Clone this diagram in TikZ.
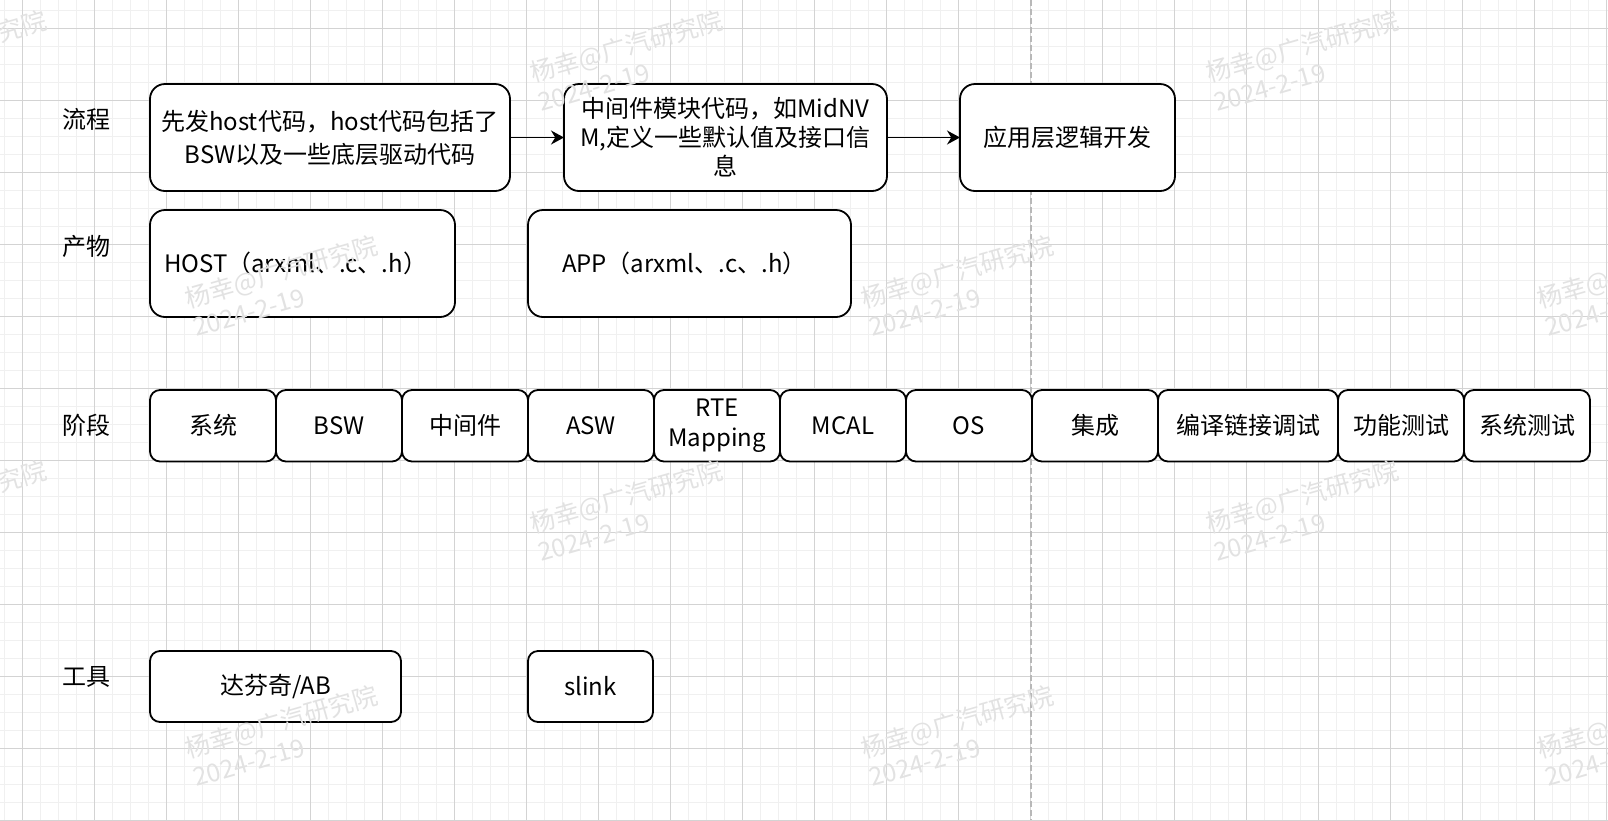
\documentclass[tikz,border=0pt]{standalone}
\usepackage{fontspec}
\setmainfont{Noto Sans CJK SC}
\usepackage{tikz}
\usetikzlibrary{positioning, arrows.meta}

\definecolor{gridminor}{HTML}{F0F0F0}
\definecolor{gridmajor}{HTML}{D3D3D3}
\definecolor{marktext}{HTML}{E2E2E2}

\begin{document}
\begin{tikzpicture}[
  x=1pt, y=-1pt,
  every node/.style={font=\fontsize{24}{30}\selectfont, align=center},
  minor line/.style={draw=gridminor, line width=1pt},
  major line/.style={draw=gridmajor, line width=1pt},
  divider/.style={draw=black!28, line width=1.5pt, dash pattern=on 6pt off 3pt},
  rowlabel/.style={inner sep=0pt},
  flowbox/.style={rectangle, draw, fill=white, line width=1.8pt, rounded corners=15pt, minimum height=107pt, outer sep=0pt},
  stagebox/.style={rectangle, draw, fill=white, line width=1.8pt, rounded corners=10pt, minimum width=126pt, minimum height=71.5pt, inner sep=2pt, outer sep=0pt, font=\fontsize{24}{29.5}\selectfont},
  toolbox/.style={stagebox, minimum height=71pt},
  flow arrow/.style={draw, line width=1.8pt, -{Stealth[length=13pt, width=14pt]}},
  watermark/.style={text=marktext, rotate=16, align=left, font=\fontsize{25}{30}\selectfont}
]
\useasboundingbox (0,0) rectangle (1608,820);

% background grid
\foreach \gx in {4,22,...,1606} \draw[minor line] (\gx,0) -- (\gx,820);
\foreach \gy in {10,28,...,820} \draw[minor line] (0,\gy) -- (1608,\gy);
\foreach \gx in {22,94,...,1606} \draw[major line] (\gx,0) -- (\gx,820);
\foreach \gy in {28,100,...,820} \draw[major line] (0,\gy) -- (1608,\gy);
\draw[divider] (1031,0) -- (1031,820);

% row labels
\node[rowlabel] (lblflow) at (86,119) {流程};
\node[rowlabel] (lblout) at (86,246) {产物};
\node[rowlabel] (lblstage) at (86,425) {阶段};
\node[rowlabel] (lbltool) at (86,677) {工具};

% flow
\node[flowbox, minimum width=360pt, font=\fontsize{24}{33}\selectfont] (host) at (330,137.5)
  {先发host代码，host代码包括了\\BSW以及一些底层驱动代码};
\node[flowbox, minimum width=323pt, font=\fontsize{24}{29}\selectfont, right=54pt of host] (midware)
  {中间件模块代码，如MidNV\\M,定义一些默认值及接口信\\息};
\node[flowbox, minimum width=215pt, right=73pt of midware] (appdev) {应用层逻辑开发};
\draw[flow arrow] (host) -- (midware);
\draw[flow arrow] (midware) -- (appdev);

% outputs
\node[flowbox, text width=277pt, align=left, inner xsep=14pt] (hostout) at (302.5,263.5)
  {HOST（arxml、.c、.h）};
\node[flowbox, text width=255pt, align=left, inner xsep=34pt] (appout) at (689.5,263.5)
  {APP（arxml、.c、.h）};

% stages
\node[stagebox] (sys) at (213,425.75) {系统};
\node[stagebox, right=0pt of sys] (bsw) {BSW};
\node[stagebox, right=0pt of bsw] (midw) {中间件};
\node[stagebox, right=0pt of midw] (asw) {ASW};
\node[stagebox, right=0pt of asw] (rte) {RTE\\Mapping};
\node[stagebox, right=0pt of rte] (mcal) {MCAL};
\node[stagebox, right=0pt of mcal] (os) {OS};
\node[stagebox, right=0pt of os] (integ) {集成};
\node[stagebox, minimum width=180pt, right=0pt of integ] (build) {编译链接调试};
\node[stagebox, right=0pt of build] (functest) {功能测试};
\node[stagebox, right=0pt of functest] (systest) {系统测试};

% tools
\node[toolbox, minimum width=251pt] (davinci) at (275.5,686.5) {达芬奇/AB};
\node[toolbox, minimum width=125pt] (slink) at (590.5,686.5) {slink};

% watermarks
\foreach \wx/\wy [count=\wi] in {-46/60, 630/60, 1306/60, 285/285, 961/285, 1637/285,
    -46/510, 630/510, 1306/510, 285/735, 961/735, 1637/735}
  \node[watermark] (mark\wi) at (\wx,\wy) {杨幸@广汽研究院\\2024-2-19};

\end{tikzpicture}
\end{document}
